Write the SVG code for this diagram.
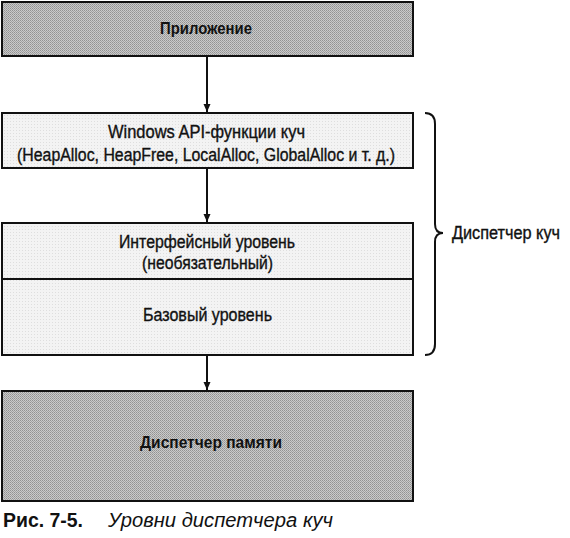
<svg xmlns="http://www.w3.org/2000/svg" width="570" height="538" viewBox="0 0 570 538">
  <defs>
    <pattern id="dark" width="2" height="2" patternUnits="userSpaceOnUse">
      <rect width="2" height="2" fill="#cacaca"/>
      <rect width="1" height="1" fill="#929292"/>
      <rect x="1" y="1" width="1" height="1" fill="#a2a2a2"/>
    </pattern>
    <pattern id="light" width="3" height="3" patternUnits="userSpaceOnUse">
      <rect width="3" height="3" fill="#f3f3f3"/>
      <rect x="1" y="1" width="1" height="1" fill="#dedede"/>
    </pattern>
    <marker id="arr" viewBox="0 0 8 10" refX="8" refY="5" markerWidth="8" markerHeight="10" markerUnits="userSpaceOnUse" orient="auto">
      <path d="M0,1.5 L8,5 L0,8.5 Z" fill="#111"/>
    </marker>
    <style>
      .box { stroke: #111; stroke-width: 2; }
      .dk { fill: url(#dark); }
      .lt { fill: url(#light); }
      .t { font-family: "Liberation Sans", Arial, sans-serif; fill: #111; text-anchor: middle; }
      .b { font-weight: bold; font-size: 17px; }
      .r { font-size: 17.5px; stroke: #111; stroke-width: 0.35px; }
      .con { stroke: #111; stroke-width: 2; fill: none; }
      .cap { font-family: "Liberation Sans", Arial, sans-serif; fill: #111; font-size: 20px; }
    </style>
  </defs>

  <g id="connectors">
    <line class="con" x1="207" y1="57" x2="207" y2="112" marker-end="url(#arr)"/>
    <line class="con" x1="207" y1="168" x2="207" y2="222" marker-end="url(#arr)"/>
    <line class="con" x1="207" y1="355" x2="207" y2="390" marker-end="url(#arr)"/>
  </g>

  <g id="app">
    <rect class="box dk" x="2" y="2" width="411" height="54"/>
    <text class="t b" x="206" y="34" textLength="92" lengthAdjust="spacingAndGlyphs">Приложение</text>
  </g>

  <g id="winapi">
    <rect class="box lt" x="2" y="113" width="411" height="55"/>
    <text class="t r" x="206.5" y="137.5" textLength="197" lengthAdjust="spacingAndGlyphs">Windows API-функции куч</text>
    <text class="t r" x="206" y="160.5" textLength="378" lengthAdjust="spacingAndGlyphs">(HeapAlloc, HeapFree, LocalAlloc, GlobalAlloc и т. д.)</text>
  </g>

  <g id="heap-layers">
    <rect class="box lt" x="2" y="223" width="411" height="132"/>
    <line class="box" x1="2" y1="279" x2="413" y2="279"/>
    <text class="t r" x="207" y="247.5" textLength="176" lengthAdjust="spacingAndGlyphs">Интерфейсный уровень</text>
    <text class="t r" x="207.5" y="268.5" textLength="131" lengthAdjust="spacingAndGlyphs">(необязательный)</text>
    <text class="t r" x="207.5" y="320.5" textLength="129" lengthAdjust="spacingAndGlyphs">Базовый уровень</text>
  </g>

  <g id="heap-manager">
    <path class="con" d="M425,113 Q435,113 435,124 L435,224 Q435,233 443,233 Q435,233 435,242 L435,344 Q435,355 425,355"/>
    <text class="t r" x="452" y="238.5" style="text-anchor:start" textLength="108" lengthAdjust="spacingAndGlyphs">Диспетчер куч</text>
  </g>

  <g id="memmgr">
    <rect class="box dk" x="2" y="391" width="411" height="110"/>
    <text class="t b" x="211" y="447.5" textLength="142" lengthAdjust="spacingAndGlyphs">Диспетчер памяти</text>
  </g>

  <g id="caption">
    <text class="cap" x="3" y="527" font-weight="bold" textLength="80" lengthAdjust="spacingAndGlyphs">Рис. 7-5.</text>
    <text class="cap" x="108" y="527" font-style="italic" textLength="225" lengthAdjust="spacingAndGlyphs">Уровни диспетчера куч</text>
  </g>
</svg>
